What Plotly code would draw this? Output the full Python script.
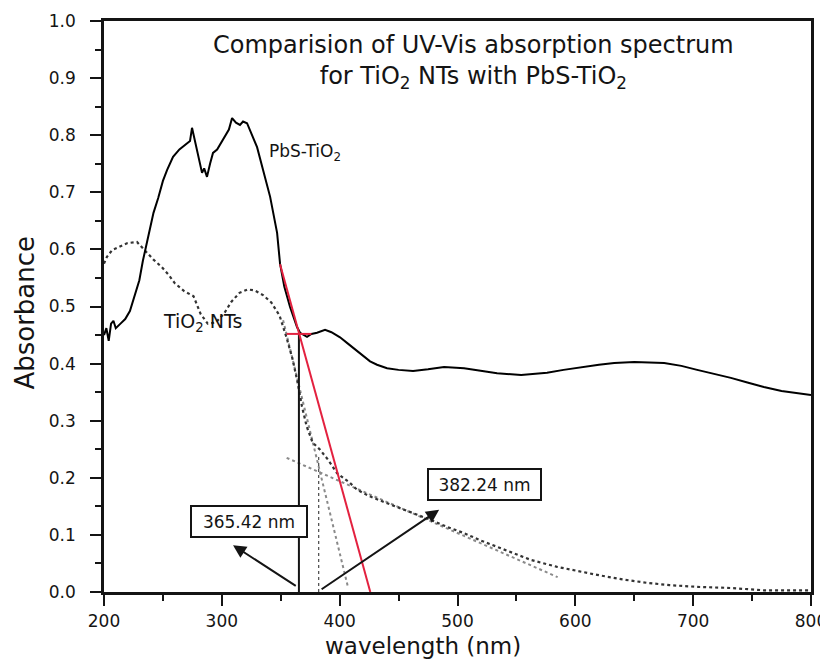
import plotly.graph_objects as go

# ---- data ----
pbs_wl = [200, 202, 204, 206, 208, 210, 214, 218, 222, 226, 230, 233, 236.5, 239, 242, 246, 250, 253.5,
          258.6, 264, 270.5, 273, 274.7, 277, 280, 283.2, 285, 287.4, 290, 292.5, 296, 300, 304.4, 306,
          308.7, 312, 315.4, 318, 321.4, 326, 329.9, 335, 341, 346.9, 349.4, 353, 357.9, 363.8, 366.4,
          372.3, 376, 380.8, 387.6, 393, 400.3, 407, 417, 425.8, 431.7, 440.2, 450, 462.3, 475, 488.6,
          505.6, 520, 533.6, 554, 576, 590, 605, 620, 633, 650, 675.4, 690, 703.4, 718, 732, 746, 760,
          775, 788, 800]
pbs_abs = [0.45, 0.462, 0.44, 0.47, 0.475, 0.462, 0.47, 0.478, 0.492, 0.517, 0.546, 0.58, 0.611, 0.634,
           0.664, 0.69, 0.72, 0.739, 0.762, 0.775, 0.786, 0.79, 0.813, 0.79, 0.765, 0.734, 0.742, 0.727,
           0.75, 0.769, 0.775, 0.79, 0.804, 0.81, 0.83, 0.822, 0.818, 0.824, 0.821, 0.80, 0.779, 0.739,
           0.692, 0.629, 0.575, 0.535, 0.499, 0.464, 0.454, 0.447, 0.452, 0.454, 0.459, 0.455, 0.446,
           0.435, 0.418, 0.404, 0.398, 0.392, 0.389, 0.387, 0.39, 0.394, 0.392, 0.388, 0.383, 0.380,
           0.384, 0.389, 0.394, 0.398, 0.401, 0.403, 0.401, 0.396, 0.389, 0.382, 0.375, 0.367, 0.359,
           0.352, 0.348, 0.345]

tio2_wl = [200, 202.5, 207, 213, 220, 228, 235, 242, 249, 255, 260, 268, 276, 282, 288, 295, 302, 308,
           315, 322, 328, 335, 342, 349, 355, 360, 364, 368, 372, 377, 383.4, 390, 397.8, 408.8, 414.8,
           425, 437, 450, 462, 477.6, 490, 505.6, 520, 533.6, 548, 562.5, 584.5, 600, 618.5, 640, 661,
           680, 703, 732, 760, 780, 800]
tio2_abs = [0.575, 0.587, 0.599, 0.605, 0.611, 0.613, 0.598, 0.582, 0.569, 0.555, 0.541, 0.527, 0.518,
            0.487, 0.47, 0.472, 0.488, 0.508, 0.524, 0.53, 0.528, 0.52, 0.507, 0.484, 0.445, 0.408, 0.37,
            0.325, 0.29, 0.262, 0.249, 0.232, 0.208, 0.191, 0.179, 0.168, 0.158, 0.148, 0.138, 0.126,
            0.115, 0.103, 0.09, 0.079, 0.067, 0.056, 0.044, 0.037, 0.03, 0.022, 0.016, 0.012, 0.009,
            0.007, 0.003, 0.003, 0.003]

# tangent (band-edge) construction lines
pbs_tangent_wl = [349.4, 426.0]
pbs_tangent_abs = [0.574, 0.0]
pbs_base_wl = [355.0, 376.0]
pbs_base_abs = [0.452, 0.452]
tio2_tangent_wl = [352.0, 407.0]
tio2_tangent_abs = [0.476, 0.009]
tio2_base_wl = [355.0, 585.0]
tio2_base_abs = [0.235, 0.026]

edge_pbs = 365.42
edge_pbs_abs = 0.452
edge_tio2 = 382.24
edge_tio2_abs = 0.238

x_ticks = [200, 300, 400, 500, 600, 700, 800]
y_ticks = [0.0, 0.1, 0.2, 0.3, 0.4, 0.5, 0.6, 0.7, 0.8, 0.9, 1.0]

FONT = "DejaVu Sans, Arial, sans-serif"
INK = "#141414"

fig = go.Figure()

fig.add_trace(go.Scatter(x=tio2_base_wl, y=tio2_base_abs, mode="lines",
                         line=dict(color="#8a8a8a", width=2, dash="dot"), showlegend=False))
fig.add_trace(go.Scatter(x=tio2_tangent_wl, y=tio2_tangent_abs, mode="lines",
                         line=dict(color="#8a8a8a", width=2, dash="dot"), showlegend=False))
fig.add_trace(go.Scatter(x=[edge_tio2, edge_tio2], y=[0, edge_tio2_abs], mode="lines",
                         line=dict(color="#222222", width=1, dash="dot"), showlegend=False))
fig.add_trace(go.Scatter(x=tio2_wl, y=tio2_abs, mode="lines", name="TiO2 NTs",
                         line=dict(color="#333333", width=2.2, dash="dot"), showlegend=False))
fig.add_trace(go.Scatter(x=[edge_pbs, edge_pbs], y=[0, edge_pbs_abs], mode="lines",
                         line=dict(color=INK, width=2), showlegend=False))
fig.add_trace(go.Scatter(x=pbs_wl, y=pbs_abs, mode="lines", name="PbS-TiO2",
                         line=dict(color="#000000", width=2), showlegend=False))
fig.add_trace(go.Scatter(x=pbs_tangent_wl, y=pbs_tangent_abs, mode="lines",
                         line=dict(color="#e3213f", width=2), showlegend=False))
fig.add_trace(go.Scatter(x=pbs_base_wl, y=pbs_base_abs, mode="lines",
                         line=dict(color="#e3213f", width=2), showlegend=False))

# arrows
fig.add_annotation(x=309.5, y=0.082, ax=364, ay=0.009, xref="x", yref="y", axref="x", ayref="y",
                   text="", showarrow=True, arrowhead=2, arrowsize=1.3, arrowwidth=2, arrowcolor=INK)
fig.add_annotation(x=484.4, y=0.144, ax=383.4, ay=0.003, xref="x", yref="y", axref="x", ayref="y",
                   text="", showarrow=True, arrowhead=2, arrowsize=1.3, arrowwidth=2, arrowcolor=INK)

# boxed labels
fig.add_annotation(x=323, y=0.124, xref="x", yref="y", text=f"{edge_pbs:.2f} nm", showarrow=False,
                   font=dict(family=FONT, size=17, color=INK), bordercolor=INK, borderwidth=2,
                   bgcolor="white", width=112, height=27)
fig.add_annotation(x=523, y=0.189, xref="x", yref="y", text=f"{edge_tio2:.2f} nm", showarrow=False,
                   font=dict(family=FONT, size=17, color=INK), bordercolor=INK, borderwidth=2,
                   bgcolor="white", width=109, height=27)

# curve labels
fig.add_annotation(x=338, y=0.769, xref="x", yref="y", text="PbS-TiO<sub>2</sub>", showarrow=False,
                   xanchor="left", font=dict(family=FONT, size=17, color=INK))
fig.add_annotation(x=248, y=0.472, xref="x", yref="y", text="TiO<sub>2</sub> NTs", showarrow=False,
                   xanchor="left", font=dict(family=FONT, size=19, color=INK))

# title inside the plot
fig.add_annotation(x=0.522, y=0.986, xref="paper", yref="paper", yanchor="top", showarrow=False,
                   text="Comparision of UV-Vis absorption spectrum<br>for TiO<sub>2</sub> NTs with PbS-TiO<sub>2</sub>",
                   font=dict(family=FONT, size=24, color=INK), align="center")

# axis titles
fig.add_annotation(x=0.451, y=-0.095, xref="paper", yref="paper", yanchor="middle", showarrow=False,
                   text="wavelength (nm)", font=dict(family=FONT, size=23, color=INK))
fig.add_annotation(x=-0.112, y=0.489, xref="paper", yref="paper", xanchor="center", yanchor="middle",
                   showarrow=False, text="Absorbance", textangle=-90,
                   font=dict(family=FONT, size=26, color=INK))

fig.update_xaxes(range=[200, 800], tickvals=x_ticks, ticktext=[str(v) for v in x_ticks],
                 ticks="outside", ticklen=11, tickwidth=2, tickcolor=INK,
                 minor=dict(ticks="outside", ticklen=6, tickwidth=2, tickcolor=INK, dtick=50, showgrid=False),
                 showline=True, linecolor=INK, linewidth=2.5, mirror=True, showgrid=False, zeroline=False,
                 tickfont=dict(family=FONT, size=17, color=INK), ticklabelstandoff=1, automargin=False)
fig.update_yaxes(range=[0, 1.0], tickvals=y_ticks, ticktext=[f"{v:.1f}" for v in y_ticks],
                 ticks="outside", ticklen=11, tickwidth=2, tickcolor=INK,
                 minor=dict(ticks="outside", ticklen=6, tickwidth=2, tickcolor=INK, dtick=0.05, showgrid=False),
                 showline=True, linecolor=INK, linewidth=2.5, mirror=True, showgrid=False, zeroline=False,
                 tickfont=dict(family=FONT, size=17, color=INK), ticklabelstandoff=11, automargin=False)

# page body adds an 8px offset, so margins are shifted to keep the plot area at the reference position
fig.update_layout(width=828, height=661, plot_bgcolor="white", paper_bgcolor="white",
                  margin=dict(l=96, r=25, t=13, b=77), showlegend=False)

fig.write_html("out.html")
